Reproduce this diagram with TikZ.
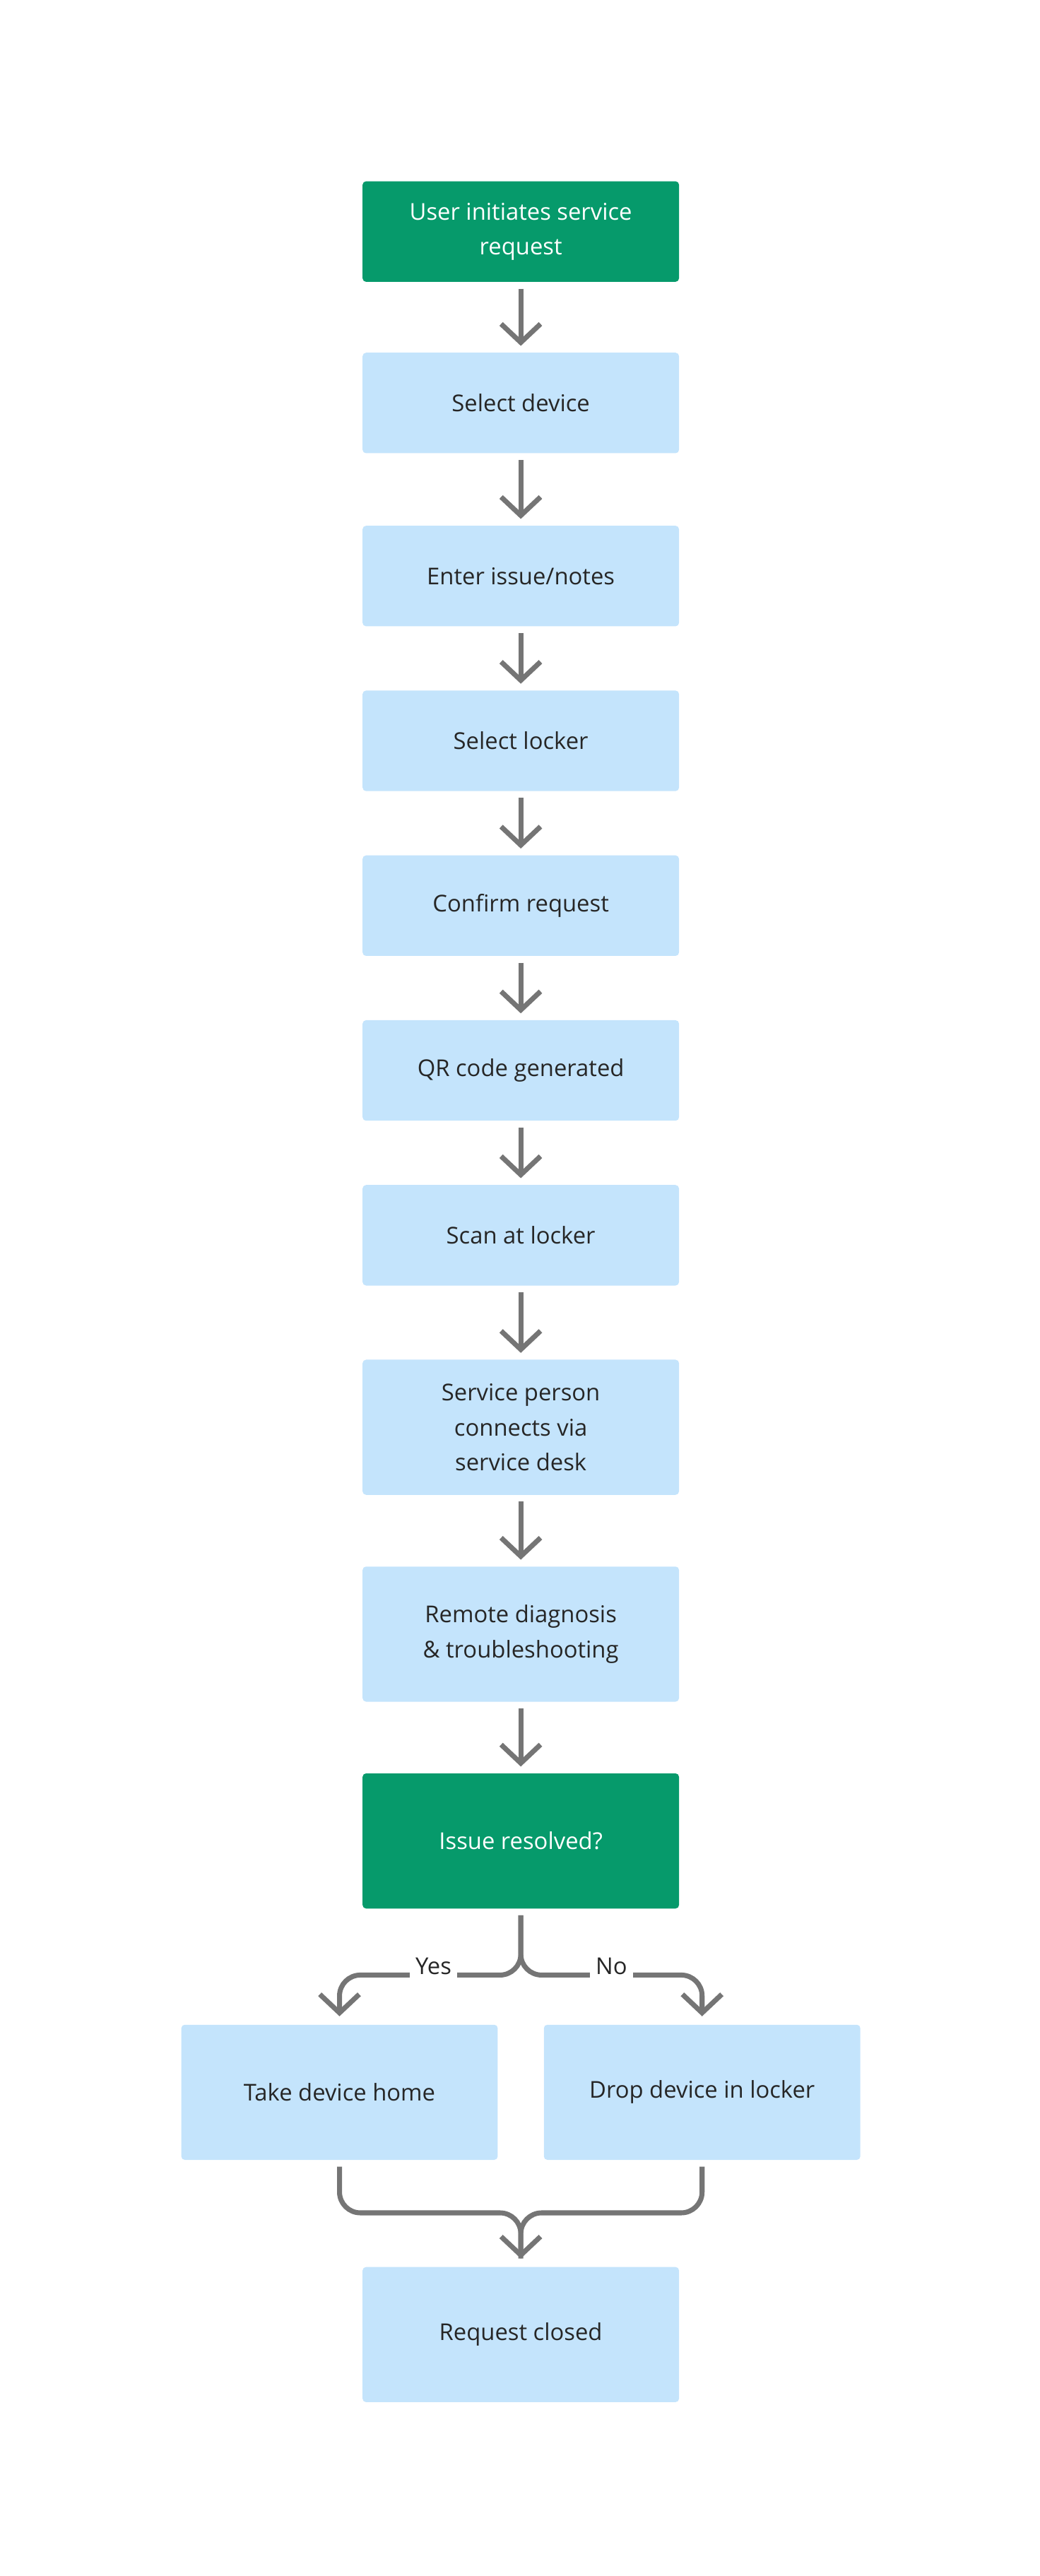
\documentclass[tikz,border=0pt]{standalone}
\usepackage{fontspec}
\setmainfont{Open Sans}
\usetikzlibrary{arrows.meta,positioning,calc}
\definecolor{stepblue}{HTML}{C4E4FC}
\definecolor{stepgreen}{HTML}{069A6B}
\definecolor{flowgrey}{HTML}{757575}
\tikzset{
  stepbox/.style={rectangle,rounded corners=3pt,fill=stepblue,text=black!85,
    minimum width=9.6cm,minimum height=3.05cm,align=center,
    font=\fontsize{20}{30}\selectfont},
  tallbox/.style={stepbox,minimum height=4.1cm},
  keybox/.style={fill=stepgreen,text=white},
  flow/.style={draw=flowgrey,line width=4.3pt,
    -{Straight Barb[length=16pt,width=34pt,line width=4.3pt]}},
  fork/.style={draw=flowgrey,line width=4.3pt,rounded corners=18pt},
  tag/.style={fill=white,inner sep=5pt,text=black!85,font=\fontsize{20}{24}\selectfont}
}
\begin{document}
\begin{tikzpicture}[x=0.05cm,y=-0.05cm]
\useasboundingbox (0,0) rectangle (631,1563);
% ==========================================
\node[stepbox,keybox] (start) at (316,140.5) {User initiates service\\request};
\node[stepbox] (device) at (316,244.5) {Select device};
\node[stepbox] (issue) at (316,349.5) {Enter issue/notes};
\node[stepbox] (locker) at (316,449.5) {Select locker};
\node[stepbox] (confirm) at (316,549.5) {Confirm request};
\node[stepbox] (qr) at (316,649.5) {QR code generated};
\node[stepbox] (scan) at (316,749.5) {Scan at locker};
\node[tallbox] (desk) at (316,866) {Service person\\connects via\\service desk};
\node[tallbox] (remote) at (316,991.5) {Remote diagnosis\\\& troubleshooting};
\node[tallbox,keybox] (resolved) at (316,1117) {Issue resolved?};
\node[tallbox] (home) at (206,1269.5) {Take device home};
\node[tallbox] (drop) at (426,1269.5) {Drop device in locker};
\node[tallbox] (closed) at (316,1416.5) {Request closed};
%
\foreach \a/\b in {start/device,device/issue,issue/locker,locker/confirm,
  confirm/qr,qr/scan,scan/desk,desk/remote,remote/resolved}
  \draw[flow] ($(\a.south)+(0,4)$) -- ($(\b.north)+(0,-4)$);
% branch
\draw[fork,-{Straight Barb[length=16pt,width=34pt,line width=4.3pt]}]
  ($(resolved.south)+(0,4)$) |- ($(home.north)+(0,-30)$) -- ($(home.north)+(0,-5)$);
\draw[fork,-{Straight Barb[length=16pt,width=34pt,line width=4.3pt]}]
  ($(resolved.south)+(0,4)$) |- ($(drop.north)+(0,-30)$) -- ($(drop.north)+(0,-5)$);
\node[tag] (yes) at (263,1193) {Yes};
\node[tag] (no) at (371,1193) {No};
% merge
\draw[fork] ($(home.south)+(0,4)$) -- ($(home.south)+(0,32)$) -| ($(closed.north)+(0,-5)$);
\draw[fork,-{Straight Barb[length=16pt,width=34pt,line width=4.3pt]}]
  ($(drop.south)+(0,4)$) -- ($(drop.south)+(0,32)$) -| ($(closed.north)+(0,-5)$);
% =============================================
\end{tikzpicture}
\end{document}
